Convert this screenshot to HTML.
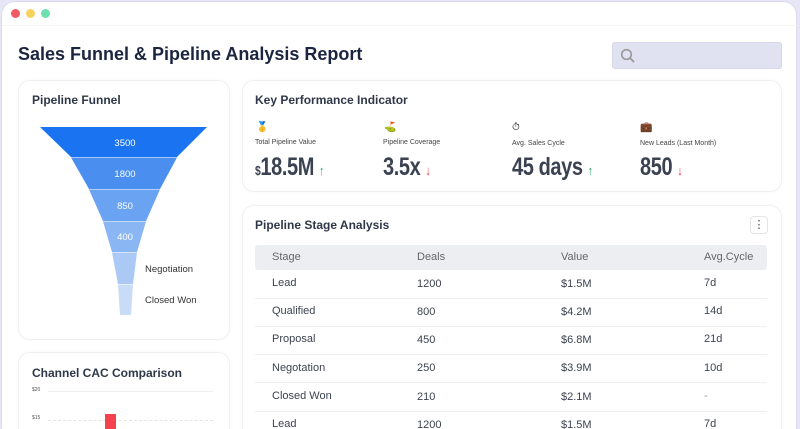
<!DOCTYPE html>
<html><head><style>
*{margin:0;padding:0;box-sizing:border-box}
html,body{width:800px;height:429px;overflow:hidden}
body{background:#e6e6f6;font-family:"Liberation Sans",sans-serif;position:relative}
.win{position:absolute;left:1px;top:1px;width:796px;height:440px;background:#fff;border-radius:14px;border:1px solid #dcdcee}
.dot{position:absolute;top:9px;width:9px;height:9px;border-radius:50%}
.card{position:absolute;background:#fff;border:1px solid #f0f0f4;border-radius:12px;box-shadow:0 0 4px rgba(0,0,0,0.03)}
.t{position:absolute;font-weight:bold;color:#2f3848;font-size:12px}
.a{position:absolute;font-size:7px;color:#444;}
.big{position:absolute;font-size:25px;color:#3a4252;font-weight:bold;letter-spacing:-0.5px;transform:scaleX(0.8);transform-origin:0 0;white-space:nowrap}
.td{position:absolute;font-size:11px;color:#3c4250}
.ln{position:absolute;left:255px;width:512px;height:1px;background:#eceef2}
</style></head><body>
<div class="win"></div>
<div class="dot" style="left:11px;background:#f25a63"></div>
<div class="dot" style="left:26px;background:#f6d35e"></div>
<div class="dot" style="left:41px;background:#6de0b0"></div>
<div style="position:absolute;left:2px;top:25px;width:795px;height:1px;background:#f4f4f0"></div>
<div style="position:absolute;left:18px;top:44px;font-size:18px;font-weight:bold;color:#1c2540">Sales Funnel &amp; Pipeline Analysis Report</div>
<div style="position:absolute;left:612px;top:42px;width:170px;height:27px;background:#e0e1f1;border-radius:3px;border:1px solid #d6d7ea"></div>
<svg style="position:absolute;left:620px;top:48px" width="16" height="16"><circle cx="6.5" cy="6.5" r="4.8" fill="none" stroke="#999" stroke-width="1.6"/><line x1="10" y1="10" x2="14" y2="14" stroke="#999" stroke-width="1.8"/></svg>

<div class="card" style="left:18px;top:80px;width:212px;height:260px"></div>
<div class="t" style="left:32px;top:93px">Pipeline Funnel</div>
<svg style="position:absolute;left:0;top:0" width="240" height="330">
<polygon points="40,127 207,127 177,157 71,157" fill="#1a73f0"/>
<polygon points="71,157.5 177,157.5 160,189 89,189" fill="#4a8ff0"/>
<polygon points="89,189.5 160,189.5 146,221 103,221" fill="#6aa3f2"/>
<polygon points="103,221.5 146,221.5 137,252 112,252" fill="#8ab7f4"/>
<polygon points="112,252.5 137,252.5 133,284 118,284" fill="#abc9f5"/>
<polygon points="118,284.5 133,284.5 131,315 120,315" fill="#c8dcf8"/>
<g fill="#fff" font-size="9.5" text-anchor="middle" font-family="Liberation Sans"><text x="125" y="146">3500</text><text x="125" y="177">1800</text><text x="125" y="209">850</text><text x="125" y="240">400</text></g>
<g fill="#333" font-size="9.5" font-family="Liberation Sans"><text x="145" y="272">Negotiation</text><text x="145" y="303">Closed Won</text></g>
</svg>

<div class="card" style="left:18px;top:352px;width:212px;height:90px"></div>
<div class="t" style="left:32px;top:366px">Channel CAC Comparison</div>
<div style="position:absolute;left:32px;top:387px;font-size:5px;color:#555">$20</div>
<div style="position:absolute;left:32px;top:415px;font-size:5px;color:#555">$15</div>
<div style="position:absolute;left:48px;top:391px;width:165px;border-top:1px solid #f0f0f0"></div>
<div style="position:absolute;left:48px;top:420px;width:165px;border-top:1px dashed #e4e4e4"></div>
<div style="position:absolute;left:105px;top:414px;width:11px;height:20px;background:#f2434e"></div>

<div class="card" style="left:242px;top:80px;width:540px;height:112px"></div>
<div class="t" style="left:255px;top:93px">Key Performance Indicator</div>
<div style="position:absolute;left:256px;top:122px;font-size:10px">🥇</div>
<div style="position:absolute;left:384px;top:122px;font-size:10px">⛳</div>
<div style="position:absolute;left:512px;top:122px;font-size:10px">⏱</div>
<div style="position:absolute;left:640px;top:122px;font-size:10px">💼</div>
<div class="a" style="left:255px;top:139px">Total Pipeline Value</div>
<div class="a" style="left:383px;top:139px">Pipeline Coverage</div>
<div class="a" style="left:512px;top:140px">Avg. Sales Cycle</div>
<div class="a" style="left:640px;top:140px">New Leads (Last Month)</div>
<div class="big" style="left:255px;top:153px"><span style="font-size:13px">$</span>18.5M <span style="color:#2aa36a;font-size:13px">↑</span></div>
<div class="big" style="left:383px;top:153px">3.5x <span style="color:#e0343e;font-size:13px">↓</span></div>
<div class="big" style="left:512px;top:153px">45 days <span style="color:#2aa36a;font-size:13px">↑</span></div>
<div class="big" style="left:640px;top:153px">850 <span style="color:#e0343e;font-size:13px">↓</span></div>

<div class="card" style="left:242px;top:205px;width:540px;height:240px"></div>
<div class="t" style="left:255px;top:218px">Pipeline Stage Analysis</div>
<div style="position:absolute;left:750px;top:216px;width:18px;height:18px;border:1px solid #e4e4e8;border-radius:4px;font-size:11px;text-align:center;line-height:16px;color:#444">⋮</div>
<div style="position:absolute;left:255px;top:245px;width:512px;height:25px;background:#eceef2;border-radius:3px"></div>
<div class="td" style="left:272px;top:251px;color:#666">Stage</div>
<div class="td" style="left:417px;top:251px;color:#666">Deals</div>
<div class="td" style="left:561px;top:251px;color:#666">Value</div>
<div class="td" style="left:704px;top:251px;color:#666">Avg.Cycle</div>
<div class="ln" style="top:298px"></div><div class="ln" style="top:326px"></div><div class="ln" style="top:354px"></div><div class="ln" style="top:382px"></div><div class="ln" style="top:411px"></div>
<div class="td" style="left:272px;top:277px">Lead</div><div class="td" style="left:417px;top:278px">1200</div><div class="td" style="left:561px;top:278px">$1.5M</div><div class="td" style="left:704px;top:277px">7d</div>
<div class="td" style="left:272px;top:305px">Qualified</div><div class="td" style="left:417px;top:306px">800</div><div class="td" style="left:561px;top:306px">$4.2M</div><div class="td" style="left:704px;top:305px">14d</div>
<div class="td" style="left:272px;top:333px">Proposal</div><div class="td" style="left:417px;top:334px">450</div><div class="td" style="left:561px;top:334px">$6.8M</div><div class="td" style="left:704px;top:333px">21d</div>
<div class="td" style="left:272px;top:362px">Negotation</div><div class="td" style="left:417px;top:362px">250</div><div class="td" style="left:561px;top:362px">$3.9M</div><div class="td" style="left:704px;top:362px">10d</div>
<div class="td" style="left:272px;top:390px">Closed Won</div><div class="td" style="left:417px;top:391px">210</div><div class="td" style="left:561px;top:391px">$2.1M</div><div class="td" style="left:704px;top:390px;color:#999">-</div>
<div class="td" style="left:272px;top:418px">Lead</div><div class="td" style="left:417px;top:419px">1200</div><div class="td" style="left:561px;top:419px">$1.5M</div><div class="td" style="left:704px;top:418px">7d</div>
</body></html>
